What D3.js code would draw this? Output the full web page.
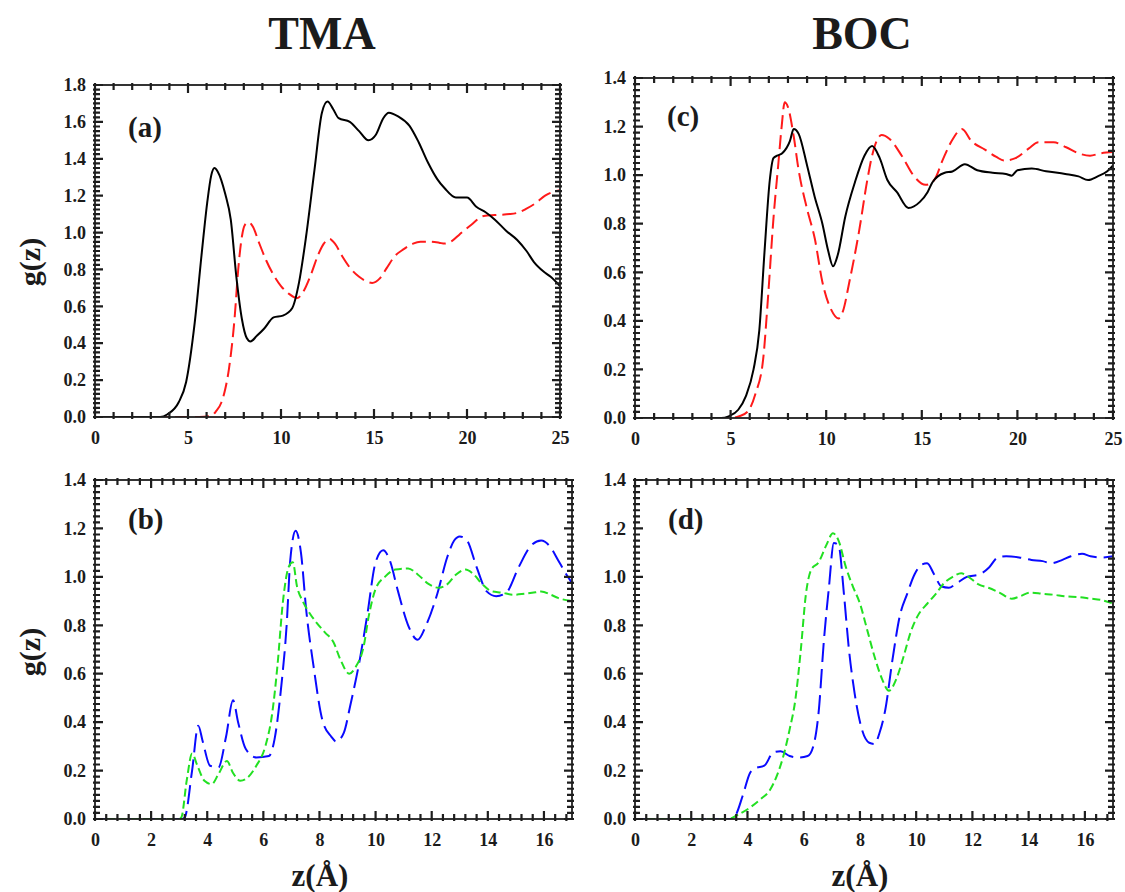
<!DOCTYPE html>
<html>
<head>
<meta charset="utf-8">
<script src="https://cdn.jsdelivr.net/npm/d3@7"></script>
<style>
  html, body { margin: 0; padding: 0; background: #fff; }
  svg text { font-family: "Liberation Serif", "Times New Roman", serif; font-weight: bold; fill: #1b1b1b; }
</style>
</head>
<body>
<svg id="fig" width="1125" height="892"></svg>
<script>
// ---- g(z) profiles, [z (Å), g(z)] ----
// TMA, panel (a)
const tmaSolid = [[0,0],[3.5,0],[3.9,0.015],[4.5,0.08],[4.9,0.19],[5.36,0.51],[5.74,0.89],[6.03,1.16],[6.25,1.31],[6.42,1.35],[6.6,1.33],[7.0,1.21],[7.3,1.07],[7.6,0.76],[7.9,0.53],[8.15,0.43],[8.36,0.41],[8.7,0.44],[9.1,0.48],[9.6,0.54],[10.1,0.55],[10.6,0.59],[10.97,0.73],[11.35,0.98],[11.8,1.34],[12.2,1.65],[12.5,1.71],[12.8,1.67],[13.1,1.62],[13.7,1.60],[14.2,1.55],[14.7,1.50],[15.1,1.53],[15.5,1.62],[15.8,1.65],[16.3,1.63],[16.9,1.58],[17.4,1.49],[17.9,1.38],[18.4,1.29],[18.8,1.24],[19.4,1.19],[20.0,1.19],[20.5,1.14],[21.0,1.11],[21.5,1.07],[22.1,1.01],[22.7,0.96],[23.2,0.90],[23.6,0.84],[24.1,0.79],[24.5,0.76],[25,0.71]];
const tmaDashed = [[0,0],[5.6,0],[6.23,0.005],[6.5,0.03],[6.8,0.08],[7.0,0.15],[7.2,0.26],[7.5,0.53],[7.7,0.8],[7.9,0.98],[8.05,1.04],[8.26,1.056],[8.5,1.03],[8.8,0.95],[9.2,0.85],[9.6,0.77],[10.0,0.71],[10.4,0.67],[10.87,0.645],[11.2,0.68],[11.6,0.77],[12.0,0.88],[12.3,0.94],[12.6,0.966],[12.9,0.94],[13.3,0.87],[13.7,0.81],[14.2,0.76],[14.6,0.735],[14.9,0.727],[15.3,0.75],[15.7,0.81],[16.1,0.87],[16.6,0.91],[17.1,0.94],[17.5,0.95],[18.0,0.95],[18.5,0.945],[18.8,0.94],[19.2,0.955],[19.6,0.99],[20.2,1.04],[20.9,1.09],[21.5,1.095],[22.3,1.10],[22.8,1.11],[23.2,1.13],[23.7,1.16],[24.2,1.20],[24.6,1.22],[25,1.23]];
// BOC, panel (c)
const bocSolid = [[0,0],[4.5,0],[4.9,0.007],[5.4,0.034],[5.8,0.09],[6.2,0.2],[6.5,0.36],[6.77,0.68],[7.05,0.98],[7.24,1.07],[7.43,1.08],[7.7,1.09],[8.1,1.14],[8.3,1.19],[8.56,1.17],[9.0,1.04],[9.4,0.91],[9.8,0.80],[10.1,0.69],[10.36,0.625],[10.6,0.67],[11.0,0.83],[11.5,0.97],[12.0,1.08],[12.4,1.12],[12.8,1.07],[13.2,0.98],[13.7,0.93],[14.3,0.865],[14.9,0.89],[15.3,0.93],[15.55,0.97],[16.2,1.01],[16.6,1.015],[17.25,1.045],[17.9,1.02],[18.7,1.01],[19.4,1.005],[19.7,0.998],[20.0,1.02],[20.75,1.027],[21.5,1.016],[22.5,1.005],[23.2,0.995],[23.7,0.98],[24.2,0.995],[24.7,1.016],[25,1.04]];
const bocDashed = [[0,0],[5.0,0],[5.45,0.007],[5.9,0.027],[6.3,0.1],[6.7,0.24],[6.96,0.5],[7.24,0.82],[7.5,1.05],[7.67,1.2],[7.83,1.30],[8.0,1.28],[8.3,1.16],[8.56,1.02],[9.0,0.86],[9.4,0.74],[9.8,0.56],[10.26,0.446],[10.64,0.41],[10.9,0.446],[11.2,0.556],[11.7,0.76],[12.15,0.98],[12.4,1.08],[12.9,1.165],[13.3,1.15],[13.95,1.08],[14.6,0.995],[15.2,0.96],[15.65,0.98],[16.1,1.064],[16.6,1.146],[17.1,1.19],[17.6,1.14],[18.3,1.105],[18.9,1.075],[19.3,1.06],[19.9,1.07],[20.6,1.11],[21.1,1.135],[21.9,1.135],[22.55,1.115],[23.2,1.09],[23.8,1.08],[24.35,1.09],[25,1.095]];
// TMA, panel (b)
const tmaBlue = [[0,0],[3.1,0],[3.2,0.007],[3.46,0.2],[3.68,0.385],[3.84,0.32],[4.1,0.22],[4.4,0.213],[4.67,0.34],[4.92,0.49],[5.1,0.40],[5.37,0.29],[5.75,0.254],[6.2,0.26],[6.4,0.33],[6.64,0.55],[6.83,0.80],[6.96,1.07],[7.15,1.19],[7.34,1.1],[7.53,0.86],[7.79,0.63],[8.1,0.41],[8.42,0.34],[8.6,0.32],[8.87,0.357],[9.1,0.47],[9.44,0.66],[9.7,0.84],[10.0,1.06],[10.27,1.11],[10.5,1.07],[10.8,0.94],[11.16,0.80],[11.5,0.74],[11.8,0.80],[12.2,0.93],[12.55,1.08],[12.8,1.15],[13.0,1.167],[13.26,1.15],[13.6,1.04],[13.96,0.94],[14.3,0.92],[14.66,0.935],[15.1,1.04],[15.55,1.13],[15.9,1.15],[16.25,1.12],[16.5,1.07],[16.8,1.01],[17,0.975]];
const tmaGreen = [[0,0],[3.0,0],[3.08,0.007],[3.27,0.16],[3.46,0.27],[3.65,0.22],[3.9,0.158],[4.16,0.144],[4.4,0.185],[4.7,0.24],[4.92,0.19],[5.18,0.158],[5.43,0.17],[5.75,0.22],[6.07,0.30],[6.32,0.44],[6.5,0.63],[6.7,0.90],[6.9,1.04],[7.05,1.06],[7.2,0.96],[7.4,0.90],[7.65,0.85],[7.9,0.81],[8.2,0.77],[8.5,0.73],[8.74,0.66],[9.06,0.60],[9.3,0.63],[9.57,0.71],[9.76,0.84],[10.0,0.95],[10.33,1.0],[10.7,1.03],[11.16,1.035],[11.5,1.01],[11.9,0.97],[12.24,0.955],[12.56,0.97],[12.87,1.01],[13.2,1.03],[13.5,1.01],[13.8,0.97],[14.15,0.94],[14.5,0.935],[14.9,0.926],[15.3,0.93],[15.7,0.936],[15.9,0.94],[16.25,0.926],[16.5,0.913],[17,0.90]];
// BOC, panel (d)
const bocBlue = [[0,0],[3.4,0],[3.57,0.014],[3.83,0.096],[4.09,0.19],[4.28,0.21],[4.6,0.22],[4.92,0.275],[5.18,0.28],[5.5,0.26],[5.82,0.254],[6.14,0.26],[6.34,0.30],[6.53,0.44],[6.72,0.74],[6.9,0.96],[7.07,1.14],[7.24,1.13],[7.43,0.93],[7.6,0.71],[7.81,0.52],[8.07,0.37],[8.33,0.315],[8.52,0.31],[8.7,0.357],[8.9,0.45],[9.16,0.66],[9.42,0.84],[9.68,0.93],[9.94,1.01],[10.19,1.05],[10.39,1.056],[10.64,1.01],[10.9,0.96],[11.16,0.955],[11.4,0.97],[11.8,1.0],[12.25,1.01],[12.6,1.04],[12.9,1.08],[13.2,1.085],[13.66,1.08],[14.1,1.07],[14.5,1.065],[14.8,1.056],[15.2,1.07],[15.5,1.085],[15.9,1.095],[16.2,1.085],[16.6,1.08],[17,1.085]];
const bocGreen = [[0,0],[3.3,0],[3.7,0.02],[4.1,0.048],[4.47,0.082],[4.8,0.12],[5.05,0.18],[5.3,0.27],[5.5,0.37],[5.7,0.49],[5.89,0.69],[6.08,0.93],[6.27,1.03],[6.53,1.06],[6.8,1.13],[7.04,1.18],[7.24,1.15],[7.5,1.04],[7.75,0.96],[8.0,0.89],[8.26,0.78],[8.52,0.67],[8.78,0.58],[9.03,0.53],[9.3,0.58],[9.55,0.67],[9.8,0.77],[10.06,0.84],[10.4,0.89],[10.7,0.93],[11.0,0.975],[11.3,1.0],[11.6,1.015],[11.86,1.0],[12.2,0.97],[12.57,0.955],[12.96,0.935],[13.4,0.91],[13.7,0.92],[14.05,0.935],[14.5,0.93],[14.9,0.926],[15.27,0.92],[15.8,0.916],[16.2,0.91],[16.55,0.905],[17,0.89]];

// ---- axis tick values ----
const yTicksA = [0, 0.2, 0.4, 0.6, 0.8, 1.0, 1.2, 1.4, 1.6, 1.8];
const yTicksBCD = [0, 0.2, 0.4, 0.6, 0.8, 1.0, 1.2, 1.4];
const xTicksTop = [0, 5, 10, 15, 20, 25];
const xTicksBottom = [0, 2, 4, 6, 8, 10, 12, 14, 16];

// ---- column titles / labels ----
const columnTitles = ["TMA", "BOC"];
const panelLetters = ["(a)", "(b)", "(c)", "(d)"];

const svg = d3.select("#fig");

const styles = {
  black: { color: "#000", dash: null, width: 2 },
  red:   { color: "#ff1a1a", dash: "14,6", width: 2 },
  blue:  { color: "#0a0aff", dash: "19,7", width: 2 },
  green: { color: "#22e022", dash: "8,4", width: 2 }
};

const frameColor = "#1e1e1e";

function panel(cfg) {
  const x = d3.scaleLinear().domain(cfg.xDomain).range([cfg.left, cfg.right]);
  const y = d3.scaleLinear().domain(cfg.yDomain).range([cfg.bottom, cfg.top]);
  const g = svg.append("g");

  const clipId = "clip-" + cfg.id;
  svg.append("defs").append("clipPath").attr("id", clipId).append("rect")
    .attr("x", cfg.left).attr("y", cfg.top - 2)
    .attr("width", cfg.right - cfg.left).attr("height", cfg.bottom - cfg.top + 2);

  const line = d3.line().x(d => x(d[0])).y(d => y(d[1])).curve(d3.curveMonotoneX);
  const plot = g.append("g").attr("clip-path", `url(#${clipId})`);
  cfg.series.forEach(s => {
    const st = styles[s.style];
    const p = plot.append("path").datum(s.data)
      .attr("d", line)
      .attr("fill", "none")
      .attr("stroke", st.color)
      .attr("stroke-width", st.width)
      .attr("stroke-linejoin", "round");
    if (st.dash) p.attr("stroke-dasharray", st.dash);
  });

  // tick marks on all four sides: crossing the frame, longer on the inside
  const near = (v, step) => Math.abs(v / step - Math.round(v / step)) < 1e-6;
  const xVals = d3.range(cfg.xDomain[0], cfg.xDomain[1] + 1e-9, cfg.xMinorStep);
  const yVals = d3.range(cfg.yDomain[0], cfg.yDomain[1] + 1e-9, cfg.yMinorStep);
  const tp = d3.path();
  xVals.forEach(v => {
    const len = near(v, cfg.xMajorStep) ? 8 : 5;
    const px = x(v);
    tp.moveTo(px, cfg.bottom + 2); tp.lineTo(px, cfg.bottom - len);
    tp.moveTo(px, cfg.top - 2); tp.lineTo(px, cfg.top + len);
  });
  yVals.forEach(v => {
    const len = near(v, 0.2) ? 8 : 5;
    const py = y(v);
    tp.moveTo(cfg.left - 2, py); tp.lineTo(cfg.left + len, py);
    tp.moveTo(cfg.right + 2, py); tp.lineTo(cfg.right - len, py);
  });
  g.append("path").attr("class", "ticks").attr("d", tp.toString())
    .style("fill", "none").style("stroke", frameColor).style("stroke-width", "2.2px");

  // frame
  g.append("rect")
    .attr("x", cfg.left).attr("y", cfg.top)
    .attr("width", cfg.right - cfg.left).attr("height", cfg.bottom - cfg.top)
    .attr("fill", "none").attr("stroke", frameColor).attr("stroke-width", 1.8);

  // tick labels
  const xAxis = d3.axisBottom(x).tickValues(cfg.xTicks).tickSize(0).tickPadding(14)
    .tickFormat(d3.format("d"));
  const xa = g.append("g").attr("transform", `translate(0,${cfg.bottom})`).call(xAxis);
  xa.select(".domain").remove();
  xa.selectAll(".tick line").remove();
  xa.selectAll("text").attr("font-size", 18).attr("font-family", null);

  const yAxis = d3.axisLeft(y).tickValues(cfg.yTicks).tickSize(0).tickPadding(9)
    .tickFormat(d3.format(".1f"));
  const ya = g.append("g").attr("transform", `translate(${cfg.left},0)`).call(yAxis);
  ya.select(".domain").remove();
  ya.selectAll(".tick line").remove();
  ya.selectAll("text").attr("font-size", 18).attr("font-family", null);

  g.append("text").attr("x", cfg.letterX).attr("y", cfg.letterY)
    .attr("font-size", 29).text(cfg.letter);
}

panel({
  id: "a", left: 95, right: 560, top: 85, bottom: 417,
  xDomain: [0, 25], yDomain: [0, 1.8], xTicks: xTicksTop, yTicks: yTicksA,
  xMinorStep: 1, xMajorStep: 5, yMinorStep: 0.025,
  letter: panelLetters[0], letterX: 128, letterY: 137,
  series: [{ data: tmaDashed, style: "red" }, { data: tmaSolid, style: "black" }]
});
panel({
  id: "c", left: 635, right: 1113, top: 78, bottom: 418,
  xDomain: [0, 25], yDomain: [0, 1.4], xTicks: xTicksTop, yTicks: yTicksBCD,
  xMinorStep: 1, xMajorStep: 5, yMinorStep: 0.025,
  letter: panelLetters[2], letterX: 667, letterY: 126,
  series: [{ data: bocDashed, style: "red" }, { data: bocSolid, style: "black" }]
});
panel({
  id: "b", left: 95, right: 572, top: 480, bottom: 819,
  xDomain: [0, 17], yDomain: [0, 1.4], xTicks: xTicksBottom, yTicks: yTicksBCD,
  xMinorStep: 0.4, xMajorStep: 2, yMinorStep: 0.025,
  letter: panelLetters[1], letterX: 128, letterY: 529,
  series: [{ data: tmaBlue, style: "blue" }, { data: tmaGreen, style: "green" }]
});
panel({
  id: "d", left: 635, right: 1113, top: 480, bottom: 819,
  xDomain: [0, 17], yDomain: [0, 1.4], xTicks: xTicksBottom, yTicks: yTicksBCD,
  xMinorStep: 0.4, xMajorStep: 2, yMinorStep: 0.025,
  letter: panelLetters[3], letterX: 668, letterY: 529,
  series: [{ data: bocBlue, style: "blue" }, { data: bocGreen, style: "green" }]
});

// column titles
svg.append("text").attr("x", 322).attr("y", 49).attr("text-anchor", "middle")
  .attr("font-size", 46).text(columnTitles[0]);
svg.append("text").attr("x", 862).attr("y", 49).attr("text-anchor", "middle")
  .attr("font-size", 46).text(columnTitles[1]);

// axis titles
[262, 652].forEach(cy => {
  svg.append("text").attr("transform", `translate(40,${cy}) rotate(-90)`)
    .attr("text-anchor", "middle").attr("font-size", 30).text("g(z)");
});
svg.append("text").attr("x", 320).attr("y", 886).attr("text-anchor", "middle")
  .attr("font-size", 31).text("z(Å)");
svg.append("text").attr("x", 860).attr("y", 886).attr("text-anchor", "middle")
  .attr("font-size", 31).text("z(Å)");
</script>
</body>
</html>
